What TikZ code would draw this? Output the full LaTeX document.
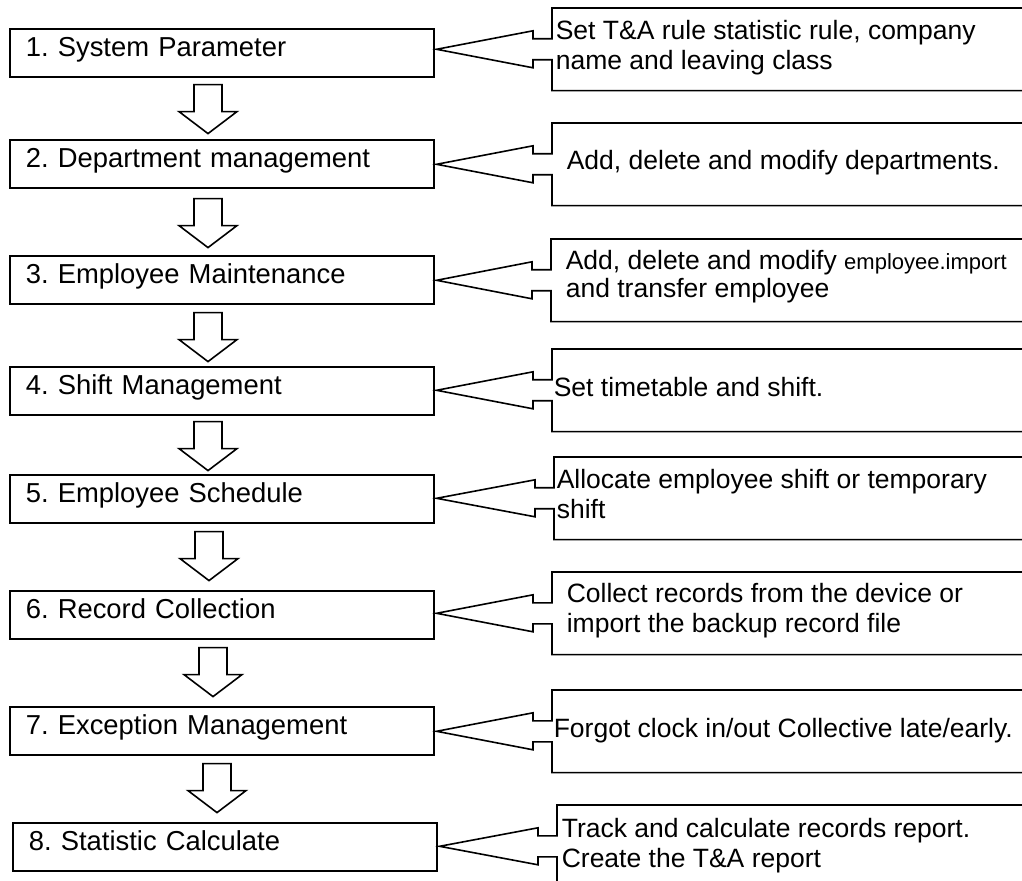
\documentclass[tikz,border=0pt]{standalone}
\usepackage{fontspec}
\setmainfont{Liberation Sans}
\usepackage{tikz}
\usetikzlibrary{calc}
\frenchspacing

\newcommand{\notearrow}[2]{%
  \draw (#1.north east) -- (#1.north west) -- ($(#1.west)+(0,-10.5)$) -- ++(-19,0) -- ++(0,-8)
    -- ($(#2.east |- #1.west)+(2,0)$) -- ($(#1.west)+(-19,18.5)$) -- ++(0,-8) -- ++(19,0)
    -- (#1.south west) -- (#1.south east);}

\begin{document}
\begin{tikzpicture}[x=0.5pt, y=-0.5pt, line width=0.8pt,
    stepbox/.style={draw, anchor=north west, minimum width=212pt, minimum height=24pt,
      text width=196pt, inner xsep=8pt, align=left, text height=9pt, text depth=5pt,
      font=\fontsize{13.7}{16}\selectfont},
    notebox/.style={anchor=north west, minimum width=240pt, minimum height=40.5pt, inner sep=0pt},
    notetext/.style={anchor=base west, align=left, inner sep=0pt, font=\fontsize{13.25}{15}\selectfont},
    downarrow/.pic={\draw (-14,0) -- (14,0) -- (14,27) -- (29,27) -- (0,49) -- (-29,27) -- (-14,27) -- cycle;}]
    \path[use as bounding box, clip] (0,0) rectangle (1022,881);
    % steps
    \node[stepbox] (s1) at (9,28) {1. System Parameter};
    \node[stepbox] (s2) at (9,139) {2. Department management};
    \node[stepbox] (s3) at (9,255) {3. Employee Maintenance};
    \node[stepbox] (s4) at (9,366) {4. Shift Management};
    \node[stepbox] (s5) at (9,474) {5. Employee Schedule};
    \node[stepbox] (s6) at (9,590) {6. Record Collection};
    \node[stepbox] (s7) at (9,706) {7. Exception Management};
    \node[stepbox] (s8) at (12,822) {8. Statistic Calculate};
    % block arrows
    \pic at ($(s1.south west)+(199,7)$) {downarrow};
    \pic at ($(s2.south west)+(199,10)$) {downarrow};
    \pic at ($(s3.south west)+(199,8)$) {downarrow};
    \pic at ($(s4.south west)+(199,6)$) {downarrow};
    \pic at ($(s5.south west)+(200,8)$) {downarrow};
    \pic at ($(s6.south west)+(204,8)$) {downarrow};
    \pic at ($(s7.south west)+(208,8)$) {downarrow};
    % notes
    \node[notebox] (n1) at (552,8) {};
    \node[notebox] (n2) at (552,123) {};
    \node[notebox] (n3) at (551,239) {};
    \node[notebox] (n4) at (552,349) {};
    \node[notebox] (n5) at (554,457) {};
    \node[notebox] (n6) at (552,572) {};
    \node[notebox] (n7) at (552,690) {};
    \node[notebox] (n8) at (557,805) {};
    \notearrow{n1}{s1}
    \notearrow{n2}{s2}
    \notearrow{n3}{s3}
    \notearrow{n4}{s4}
    \notearrow{n5}{s5}
    \notearrow{n6}{s6}
    \notearrow{n7}{s7}
    \notearrow{n8}{s8}
    % texts (base = last line)
    \node[notetext] (t1) at (555,70) {Set T\&A rule statistic rule, company\\name and leaving class};
    \node[notetext] (t2) at (566,170) {Add, delete and modify departments.};
    \node[notetext] (t3) at (565,298) {Add, delete and modify {\fontsize{11}{13}\selectfont employee.import}\\[-1pt]and transfer employee};
    \node[notetext] (t4) at (553,397) {Set timetable and shift.};
    \node[notetext] (t5) at (556,518) {Allocate employee shift or temporary\\shift};
    \node[notetext] (t6) at (566,632) {Collect records from the device or\\import the backup record file};
    \node[notetext] (t7) at (553,737) {Forgot clock in/out Collective late/early.};
    \node[notetext] (t8) at (561,867) {Track and calculate records report.\\Create the T\&A report};
\end{tikzpicture}
\end{document}
